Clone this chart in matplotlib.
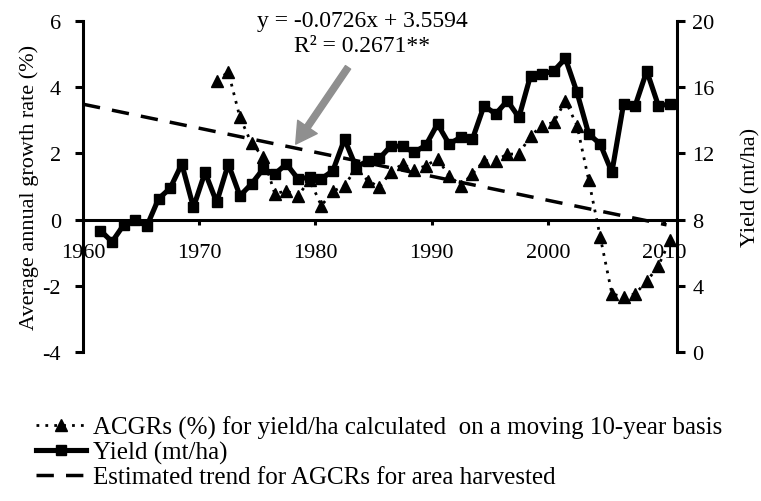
import numpy as np
import matplotlib
matplotlib.use('Agg')
import matplotlib.pyplot as plt

# ---- data ----
years = list(range(1961, 2011))
yield_mt_ha = [7.34, 6.66, 7.68, 7.96, 7.62, 9.26, 9.90, 11.36, 8.74, 10.86,
               9.04, 11.36, 9.44, 10.16, 11.06, 10.76, 11.36, 10.46, 10.56, 10.46,
               10.96, 12.86, 11.16, 11.56, 11.70, 12.46, 12.42, 12.06, 12.50, 13.78,
               12.56, 12.98, 12.86, 14.88, 14.38, 15.18, 14.18, 16.70, 16.80, 16.98,
               17.74, 15.68, 13.18, 12.56, 10.86, 14.98, 14.88, 16.98, 14.88, 14.98]
acgr_years = list(range(1971, 2011))
acgr_pct = [4.20, 4.46, 3.09, 2.30, 1.90, 0.78, 0.87, 0.72, 1.20, 0.42,
            0.85, 1.03, 1.55, 1.18, 0.98, 1.45, 1.68, 1.50, 1.63, 1.83,
            1.33, 1.03, 1.38, 1.78, 1.78, 1.98, 1.98, 2.53, 2.84, 2.94,
            3.59, 2.84, 1.20, -0.53, -2.24, -2.34, -2.24, -1.87, -1.39, -0.63]
trend_slope = -0.0726
trend_intercept = 3.5594
trend_span = [1960, 2010.2]

x_ticks = [1960, 1970, 1980, 1990, 2000, 2010]
left_ticks = [-4, -2, 0, 2, 4, 6]
right_ticks = [0, 4, 8, 12, 16, 20]

label_acgr = "ACGRs (%) for yield/ha calculated  on a moving 10-year basis"
label_yield = "Yield (mt/ha)"
label_trend = "Estimated trend for AGCRs for area harvested"

plt.rcParams['font.family'] = ['Liberation Serif', 'DejaVu Serif']
plt.rcParams['axes.unicode_minus'] = False

W, H = 761, 502
fig = plt.figure(figsize=(W / 100, H / 100), dpi=100)
ax = fig.add_axes([83 / W, 1 - 353 / H, (677 - 83) / W, (353 - 22) / H])
ax2 = ax.twinx()

# positions: mid-year
xs_y = np.array(years) + 0.5
xs_a = np.array(acgr_years) + 0.5
tx = np.array(trend_span)
ty = trend_slope * (tx - 1959) + trend_intercept

l_acgr, = ax.plot(xs_a, acgr_pct, linestyle=(0, (1, 2.2)), color='black', lw=2.0,
                  marker='^', markersize=8.5, markeredgecolor='black', zorder=3)
l_trend, = ax.plot(tx, ty, linestyle=(0, (5, 3.5)), color='black', lw=2.5, zorder=2)
l_yield, = ax2.plot(xs_y, yield_mt_ha, color='black', lw=3.7, marker='s',
                    markersize=7, zorder=4)

ax.set_xlim(1960, 2011.1)
ax.set_ylim(-4, 6)
ax2.set_ylim(0, 20)
ax.set_xticks(x_ticks)
ax.set_yticks(left_ticks)
ax2.set_yticks(right_ticks)

for s in ['top', 'right']:
    ax.spines[s].set_visible(False)
for s in ['top', 'left', 'bottom']:
    ax2.spines[s].set_visible(False)
ax.spines['bottom'].set_position(('data', 0))
ax.spines['left'].set_linewidth(2.2)
ax.spines['bottom'].set_linewidth(2.2)
ax2.spines['right'].set_linewidth(2.2)

ax.tick_params(axis='y', direction='out', length=6, width=2.2, labelsize=16, pad=10)
ax.tick_params(axis='x', direction='out', length=3.5, width=2.2, labelsize=16, pad=13)
ax2.tick_params(axis='y', direction='out', length=6, width=2.2, labelsize=16, pad=5)

ax.set_ylabel("Average annual growth rate (%)", fontsize=16, labelpad=2.5)
ax2.set_ylabel("Yield (mt/ha)", fontsize=16, labelpad=19)

# equation annotation and arrow
fig.text(362 / W, 1 - 22 / H, "y = -0.0726x + 3.5594", ha='center', va='center', fontsize=17)
fig.text(362 / W, 1 - 46 / H, "R² = 0.2671**", ha='center', va='center', fontsize=17)
ax.annotate("", xy=(1978.3, 2.28), xytext=(1982.8, 4.6),
            arrowprops=dict(facecolor='#8f8f8f', edgecolor='#8f8f8f', width=4.5,
                            headwidth=17, headlength=15, shrink=0))

fig.legend([l_acgr, l_yield, l_trend], [label_acgr, label_yield, label_trend],
           loc='upper left', bbox_to_anchor=(36 / W, 1 - 417 / H), frameon=False,
           fontsize=18, handlelength=2.0, handletextpad=0.28, labelspacing=0.07,
           borderpad=0, borderaxespad=0, numpoints=1)

fig.savefig('out.png', dpi=100)
